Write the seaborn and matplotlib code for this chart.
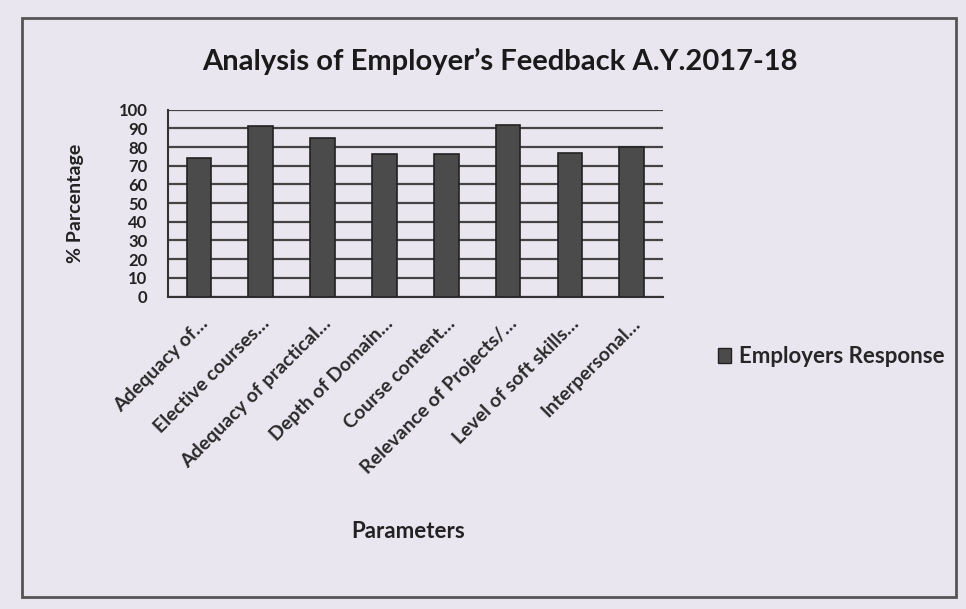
import matplotlib
matplotlib.use("Agg")
import matplotlib.pyplot as plt
import seaborn as sns
import pandas as pd
from matplotlib.patches import Rectangle, Patch

categories = ["Adequacy of…", "Elective courses…", "Adequacy of practical…", "Depth of Domain…",
              "Course content…", "Relevance of Projects/…", "Level of soft skills…", "Interpersonal…"]
values = [74, 91, 85, 76, 76, 92, 77, 80]
yticks = [0, 10, 20, 30, 40, 50, 60, 70, 80, 90, 100]
series_name = "Employers Response"

df = pd.DataFrame({"Parameter": categories, "Value": values})

sns.set_theme(style="white")
plt.rcParams["font.family"] = ["Lato", "DejaVu Sans"]

bg = "#e9e6f0"
fig = plt.figure(figsize=(9.66, 6.09), dpi=100, facecolor=bg)
ax = fig.add_axes([0.174, 0.513, 0.512, 0.307])
ax.set_facecolor(bg)

sns.barplot(data=df, x="Parameter", y="Value", ax=ax, color="#4b4b4b",
            width=0.4, edgecolor="#222222", linewidth=1.2, zorder=3)

ax.set_ylim(0, 100)
ax.set_xlim(-0.5, len(categories) - 0.5)
ax.set_yticks(yticks)
ax.set_yticklabels([str(t) for t in yticks], fontsize=12, fontweight="bold", color="#222222")
ax.yaxis.grid(True, color="#444444", linewidth=1.6, zorder=0)
ax.xaxis.grid(False)
for s in ["top", "right"]:
    ax.spines[s].set_visible(False)
ax.spines["left"].set_color("#333333")
ax.spines["left"].set_linewidth(1.5)
ax.spines["bottom"].set_color("#333333")
ax.spines["bottom"].set_linewidth(1.5)
ax.tick_params(axis="y", which="major", direction="inout", length=10, width=1.5, color="#333333", pad=10)
ax.tick_params(axis="x", length=0, pad=13)

ax.set_xticks(range(len(categories)))
ax.set_xticklabels(categories, rotation=45, ha="right", rotation_mode="anchor",
                   fontsize=14, fontweight="bold", color="#2a2a2a")
ax.set_xlabel("Parameters", fontsize=16, fontweight="bold", color="#222222")
ax.set_ylabel("% Parcentage", fontsize=14, fontweight="bold", color="#222222")
ax.xaxis.set_label_coords(0.485, -1.2)
ax.yaxis.set_label_coords(-0.17, 0.5)

fig.text(0.518, 0.9, "Analysis of Employer’s Feedback A.Y.2017-18", ha="center", va="center",
         fontsize=21, fontweight="bold", color="#1a1a1a")

handle = Patch(facecolor="#4b4b4b", edgecolor="#222222")
fig.legend([handle], [series_name], loc="center left", bbox_to_anchor=(0.743, 0.414),
           frameon=False, prop={"weight": "bold", "size": 16},
           handlelength=0.6, handleheight=0.6, handletextpad=0.35, borderaxespad=0, borderpad=0)

fig.patches.append(Rectangle((0.023, 0.02), 0.967, 0.95, transform=fig.transFigure,
                             fill=False, edgecolor="#555555", linewidth=2))

fig.savefig("out.png", dpi=100, facecolor=bg)
